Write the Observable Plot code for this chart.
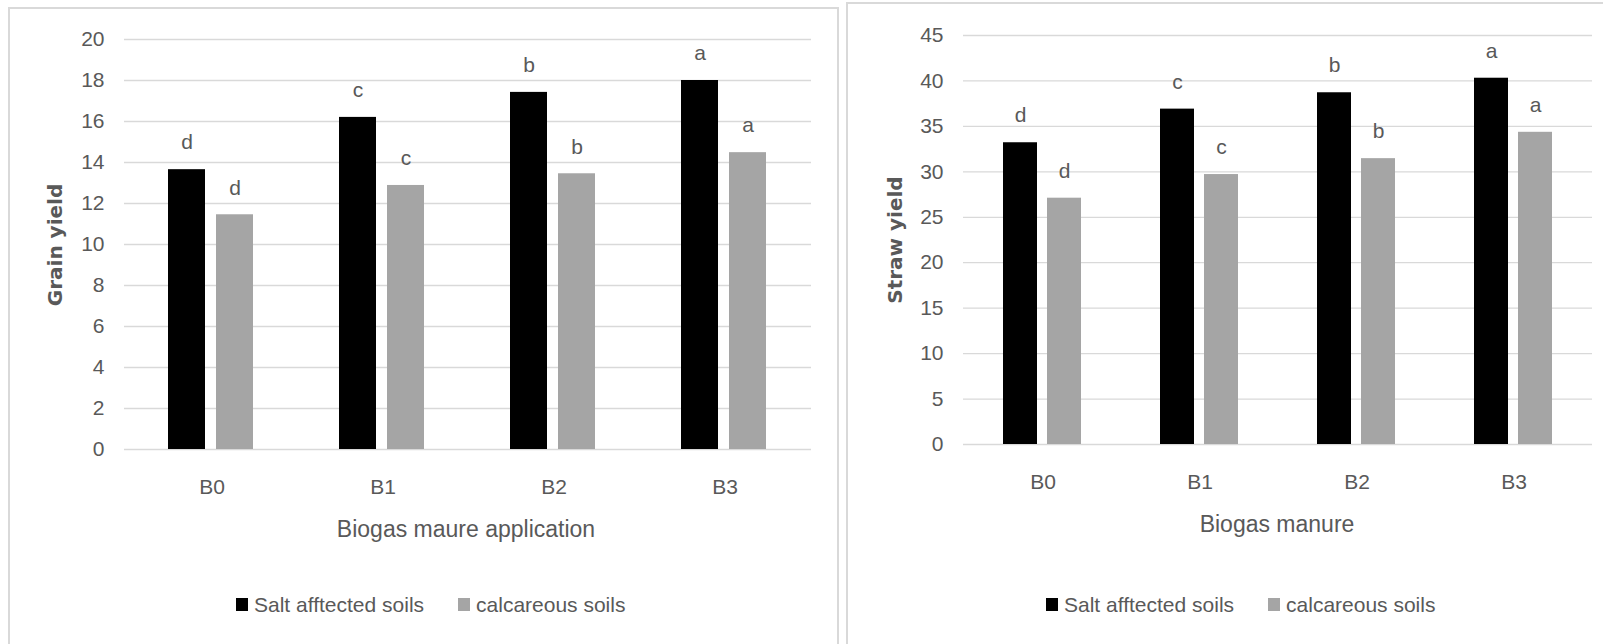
<!DOCTYPE html>
<html><head><meta charset="utf-8">
<script src="https://cdn.jsdelivr.net/npm/d3@7"></script>
<script src="https://cdn.jsdelivr.net/npm/@observablehq/plot@0.6"></script>
<style>
body{margin:0;background:#fff;width:1603px;height:644px;overflow:hidden;position:relative;font-family:'Liberation Sans',Arial,sans-serif;color:#595959}
.frame{position:absolute;border:2px solid #d9d9d9;box-sizing:border-box}
.abs{position:absolute}
.abs svg{position:absolute;left:0;top:0}
.ytitle{position:absolute;font-family:'DejaVu Sans',sans-serif;font-weight:bold;font-size:20px;color:#595959;transform:translate(-50%,-50%) rotate(-90deg);white-space:nowrap;line-height:1}
.xtitle{position:absolute;font-size:23px;transform:translate(-50%,-50%);white-space:nowrap;line-height:1}
.legend{position:absolute;display:flex;align-items:center;font-size:21px;line-height:1;white-space:nowrap;height:24px}
.sw{display:inline-block;width:12px;height:13px;margin-right:6px}
.gap{display:inline-block;width:34px}
</style></head><body>
<div class="frame" style="left:8px;top:7px;width:831px;height:660px"></div>
<div class="frame" style="left:846px;top:2px;width:800px;height:660px"></div>
<div id="left" class="abs" style="left:0;top:0;width:820px;height:500px"></div>
<div id="right" class="abs" style="left:840px;top:0;width:763px;height:490px"></div>
<div class="ytitle" style="left:55px;top:245px">Grain yield</div>
<div class="ytitle" style="left:895px;top:240px">Straw yield</div>
<div class="xtitle" style="left:466px;top:529px">Biogas maure application</div>
<div class="xtitle" style="left:1277px;top:524px">Biogas manure</div>
<div id="legL" class="legend" style="left:236px;top:592px"></div>
<div id="legR" class="legend" style="left:1046px;top:592px"></div>
<script>
const categories = ["B0", "B1", "B2", "B3"];
const series = ["Salt afftected soils", "calcareous soils"];
const grainSalt = [13.65, 16.2, 17.42, 18.0];
const grainCalc = [11.45, 12.88, 13.45, 14.48];
const strawSalt = [33.2, 36.9, 38.7, 40.3];
const strawCalc = [27.1, 29.7, 31.45, 34.35];
const grainLettersSalt = ["d", "c", "b", "a"];
const grainLettersCalc = ["d", "c", "b", "a"];
const strawLettersSalt = ["d", "c", "b", "a"];
const strawLettersCalc = ["d", "c", "b", "a"];
const grainTicks = [0, 2, 4, 6, 8, 10, 12, 14, 16, 18, 20];
const strawTicks = [0, 5, 10, 15, 20, 25, 30, 35, 40, 45];
const colors = ["#000000", "#a5a5a5"];

function rows(salt, calc, ls, lc) {
  return categories.flatMap((c, i) => [
    {cat: c, series: series[0], value: salt[i], letter: ls[i]},
    {cat: c, series: series[1], value: calc[i], letter: lc[i]}
  ]);
}

const font = "'Liberation Sans', Arial, sans-serif";

function chart(el, {data, ticks, max, width, height, ml, mr, mt, mb}) {
  const dims = {width, height, marginLeft: ml, marginRight: mr, marginTop: mt, marginBottom: mb};
  const style = {fontFamily: font, fontSize: "21px", color: "#595959", background: "transparent", overflow: "visible"};
  // background layer: grid, y axis, category labels
  const back = Plot.plot({
    ...dims, style,
    x: {type: "band", domain: categories, padding: 0, axis: null},
    y: {domain: [0, max], axis: null},
    marks: [
      Plot.ruleY(ticks, {stroke: "#d9d9d9", strokeWidth: 1.3}),
      Plot.axisY(ticks, {tickSize: 0, tickPadding: 20, label: null, fill: "#595959", fontSize: 21}),
      Plot.axisX({tickSize: 0, tickPadding: 30, label: null, fill: "#595959", fontSize: 21})
    ]
  });
  // foreground layer: grouped bars and letters
  const front = Plot.plot({
    ...dims, style,
    fx: {domain: categories, paddingInner: 0.49, paddingOuter: 0.245, label: null, axis: null},
    x: {domain: series, paddingInner: 0.22, paddingOuter: 0, axis: null},
    y: {domain: [0, max], axis: null},
    color: {domain: series, range: colors},
    marks: [
      Plot.barY(data, {fx: "cat", x: "series", y: "value", fill: "series"}),
      Plot.text(data, {fx: "cat", x: "series", y: "value", text: "letter", dy: -27, fill: "#595959", fontSize: 21})
    ]
  });
  el.append(back, front);
}

chart(document.getElementById("left"), {
  data: rows(grainSalt, grainCalc, grainLettersSalt, grainLettersCalc),
  ticks: grainTicks, max: 20, width: 820, height: 500, ml: 124, mr: 9, mt: 39, mb: 51
});
chart(document.getElementById("right"), {
  data: rows(strawSalt, strawCalc, strawLettersSalt, strawLettersCalc),
  ticks: strawTicks, max: 45, width: 763, height: 490, ml: 123, mr: 11, mt: 35, mb: 46
});

function legend(el) {
  series.forEach((s, i) => {
    if (i > 0) { const g = document.createElement("span"); g.className = "gap"; el.append(g); }
    const sw = document.createElement("span"); sw.className = "sw"; sw.style.background = colors[i];
    const t = document.createElement("span"); t.textContent = s;
    el.append(sw, t);
  });
}
legend(document.getElementById("legL"));
legend(document.getElementById("legR"));
</script>
</body></html>
